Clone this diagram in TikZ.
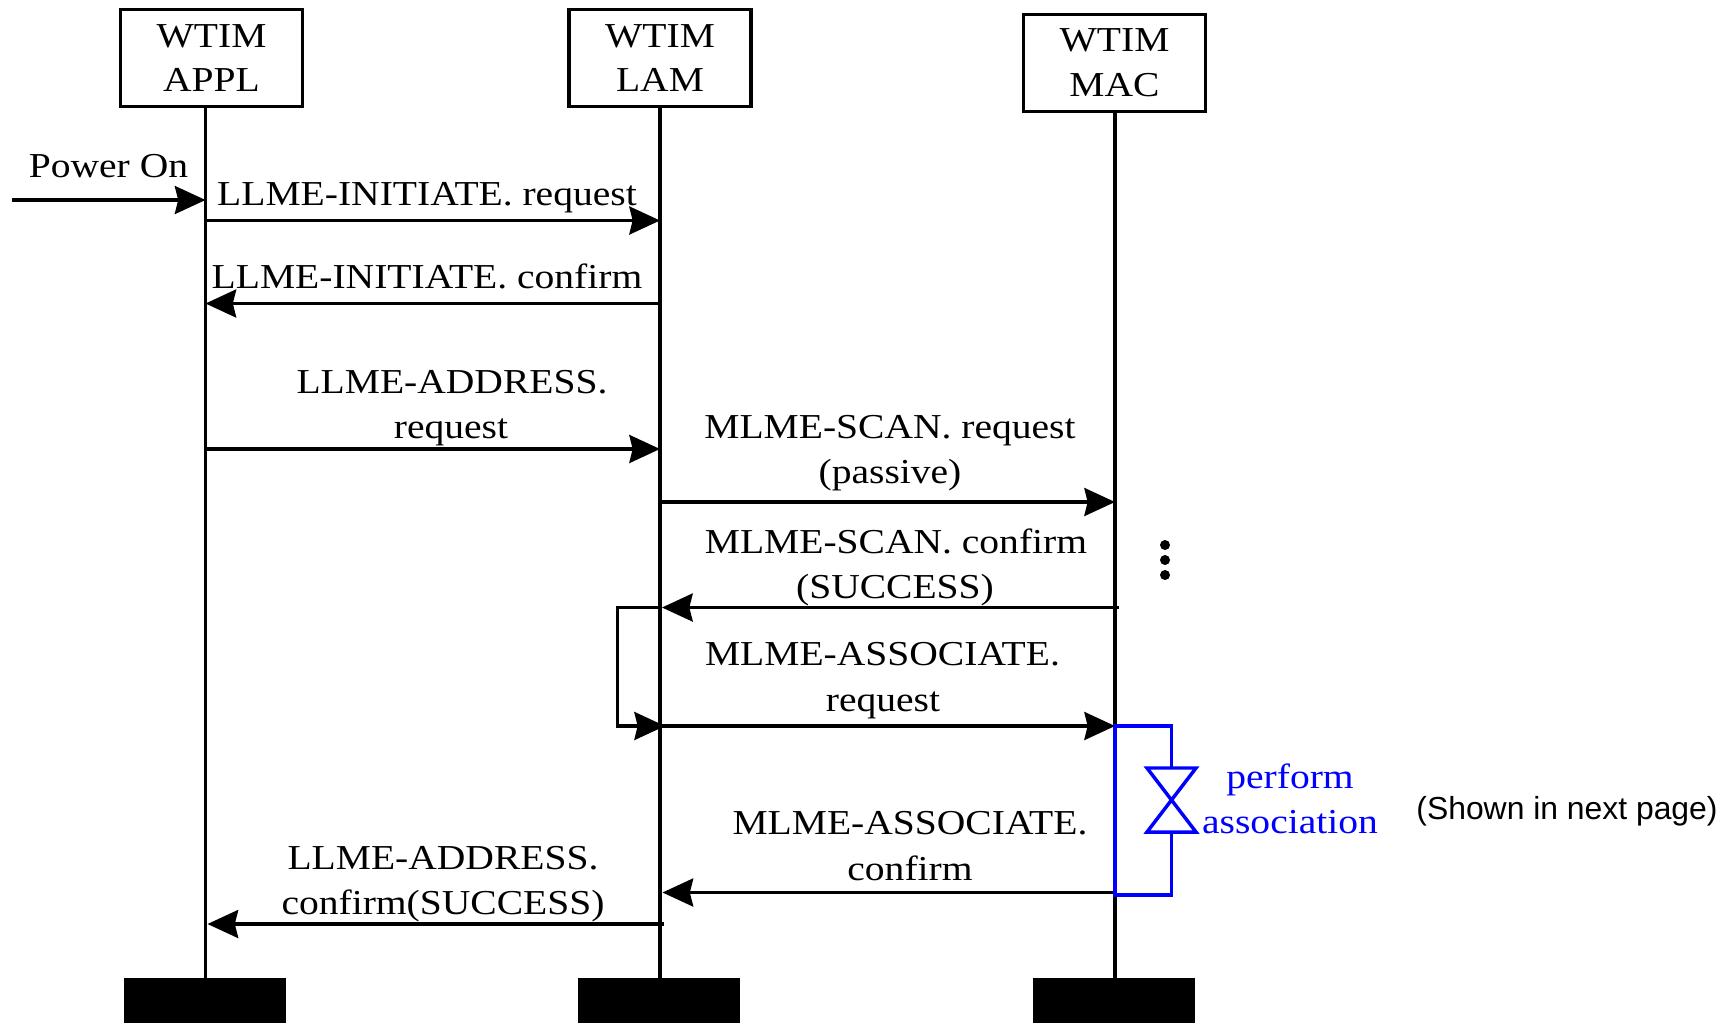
\documentclass[tikz,border=0pt]{standalone}
\usepackage{fontspec}
\setmainfont[FakeStretch=1.13]{Liberation Serif}
\newfontfamily\notefont{Liberation Sans}
\usetikzlibrary{arrows.meta}
\tikzset{
  wtimbox/.style={draw, line width=2.7pt, minimum width=136.5pt, minimum height=73pt, inner sep=0pt, align=center, font=\fontsize{26.25}{33.6}\selectfont},
  endbar/.style={fill=black, minimum width=121.5pt, minimum height=34pt, inner sep=0pt},
  lifeline/.style={line width=2.5pt},
  msg/.style={line width=2.5pt, -{Stealth[length=23pt, width=21pt, inset=2.5pt]}},
  lbl/.style={anchor=base, inner sep=0pt, align=center, font=\fontsize{26.25}{33.6}\selectfont},
  blueline/.style={line width=2.6pt, color=blue, line join=miter},
}
\begin{document}
\begin{tikzpicture}[x=0.75pt,y=0.75pt,yscale=-1,xscale=1]
\useasboundingbox (0,0) rectangle (1734,1022);

% Boxes
\node [wtimbox] (appl) at (211.5,58) {WTIM\\APPL};
\node [wtimbox] (lam) at (660,58) {WTIM\\LAM};
\node [wtimbox] (mac) at (1114.5,63) {WTIM\\MAC};
\node [endbar] (applEnd) at (204.5,1001) {};
\node [endbar] (lamEnd) at (659,1001) {};
\node [endbar] (macEnd) at (1113.5,1001) {};

% Lifelines
\draw [lifeline] (appl.south -| 205.5,0) -- (applEnd.north -| 205.5,0);
\draw [lifeline] (lam.south -| 660,0) -- (lamEnd.north -| 660,0);
\draw [lifeline] (mac.south -| 1115,0) -- (macEnd.north -| 1115,0);

% Ends of the messages
\coordinate (powerA) at (12,200);
\coordinate (powerB) at (205.5,200);
\coordinate (initReqA) at (205.5,220.5);
\coordinate (initReqB) at (660,220.5);
\coordinate (initConfA) at (660,303.5);
\coordinate (initConfB) at (205.5,303.5);
\coordinate (addrReqA) at (205.5,449);
\coordinate (addrReqB) at (660,449);
\coordinate (scanReqA) at (660,502);
\coordinate (scanReqB) at (1115,502);
\coordinate (scanConfA) at (1119,607.5);
\coordinate (scanConfB) at (662,607.5);
\coordinate (loopA) at (660,607.5);
\coordinate (loopB) at (617.5,607.5);
\coordinate (loopC) at (617.5,726);
\coordinate (loopD) at (665,726);
\coordinate (assocReqA) at (655,726);
\coordinate (assocReqB) at (1115,726);
\coordinate (assocConfA) at (1115,892.5);
\coordinate (assocConfB) at (662.5,892.5);
\coordinate (addrConfA) at (664,924);
\coordinate (addrConfB) at (207.5,924);

%Straight Lines
\draw [msg] (powerA) -- (powerB);
\draw [msg] (initReqA) -- (initReqB);
\draw [msg] (initConfA) -- (initConfB);
\draw [msg] (addrReqA) -- (addrReqB);
\draw [msg] (scanReqA) -- (scanReqB);
\draw [msg] (scanConfA) -- (scanConfB);
\draw [msg] (loopA) -- (loopB) -- (loopC) -- (loopD);
\draw [msg] (assocReqA) -- (assocReqB);
\draw [msg] (assocConfA) -- (assocConfB);
\draw [msg] (addrConfA) -- (addrConfB);

% Perform association
\coordinate (blueA) at (1115,726);
\coordinate (blueB) at (1171.5,726);
\coordinate (blueC) at (1171.5,768);
\coordinate (blueD) at (1147,768);
\coordinate (blueE) at (1196,768);
\coordinate (blueF) at (1147,832);
\coordinate (blueG) at (1196,832);
\coordinate (blueH) at (1171.5,832);
\coordinate (blueI) at (1171.5,895);
\coordinate (blueJ) at (1115,895);
\draw [blueline] (blueC) -- (blueB) -- (blueA) -- (blueJ) -- (blueI) -- (blueH);
\draw [blueline] (blueD) -- (blueE) -- (blueF) -- (blueG) -- cycle;

% Dots
\fill (1165,545) circle [radius=5];
\fill (1165,560) circle [radius=5];
\fill (1165,575) circle [radius=5];

% Text Node
\node [lbl] (powerLbl) at (108.5,177) {Power On};
\node [lbl] (initReqLbl) at (427,205) {LLME-INITIATE. request};
\node [lbl] (initConfLbl) at (427,288.5) {LLME-INITIATE. confirm};
\node [lbl] (addrReqLbl) at (452,393) {LLME-ADDRESS.};
\node [lbl] (addrReqLblB) at (451,438) {request};
\node [lbl] (scanReqLbl) at (890,438) {MLME-SCAN. request};
\node [lbl] (scanReqLblB) at (890,483) {(passive)};
\node [lbl] (scanConfLbl) at (896,553.5) {MLME-SCAN. confirm};
\node [lbl] (scanConfLblB) at (895,598) {(SUCCESS)};
\node [lbl] (assocReqLbl) at (882.5,665.5) {MLME-ASSOCIATE.};
\node [lbl] (assocReqLblB) at (883,711) {request};
\node [lbl] (assocConfLbl) at (910,834) {MLME-ASSOCIATE.};
\node [lbl] (assocConfLblB) at (910,880) {confirm};
\node [lbl] (addrConfLbl) at (443,869.5) {LLME-ADDRESS.};
\node [lbl] (addrConfLblB) at (443,914) {confirm(SUCCESS)};
\node [lbl, text=blue] (performLbl) at (1290,788.5) {perform};
\node [lbl, text=blue] (performLblB) at (1290,833.5) {association};
\node [lbl, font=\notefont\fontsize{23.9}{28}\selectfont] (noteLbl) at (1567,819) {(Shown in next page)};
\end{tikzpicture}
\end{document}
